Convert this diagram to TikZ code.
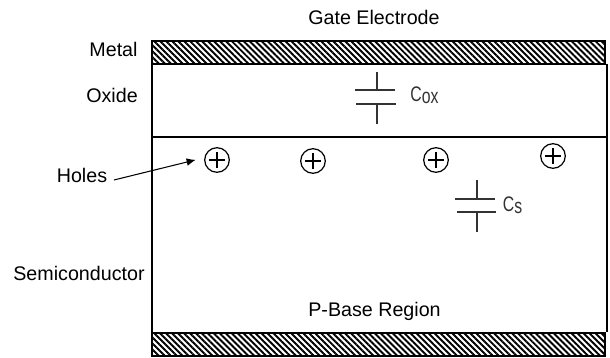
\documentclass[tikz,border=0pt]{standalone}
\usepackage{fontspec}
\setmainfont{Liberation Sans}
\usetikzlibrary{patterns.meta, arrows.meta}
\definecolor{capgray}{HTML}{333333}

\begin{document}
\begin{tikzpicture}[
        x=0.02cm, y=-0.02cm,
        every node/.style={font=\fontsize{11.2pt}{13pt}\selectfont, inner sep=0pt},
        metal/.style={
          draw=black, line width=0.9pt,
          pattern={Lines[angle=135, distance=2.4pt, line width=1.1pt]},
          minimum width=258pt, minimum height=13.2pt, anchor=north west,
        },
        frame/.style={draw=black, line width=1.5pt},
        capline/.style={draw=capgray, line width=0.7pt},
        caplbl/.style={text=capgray, font=\fontsize{12pt}{14pt}\selectfont},
        hole/.style={
          circle, draw=black, line width=0.7pt, minimum size=14pt,
          path picture={
            \draw[line width=1.6pt] ([xshift=-4.4pt]path picture bounding box.center) -- ([xshift=4.4pt]path picture bounding box.center);
            \draw[line width=1.6pt] ([yshift=-4.4pt]path picture bounding box.center) -- ([yshift=4.4pt]path picture bounding box.center);
          },
        },
        arr/.style={-{Latex[length=5.2pt, width=4.4pt]}, draw=black, line width=0.6pt},
      ]
      \useasboundingbox (0,0) rectangle (610,358);

      % layers
      \draw[frame] (152,64) -- (152,332);
      \draw[frame] (607,64) -- (607,332);
      \draw[frame] (152,137) -- (607,137);
      \node[metal] (gate) at (151,40) {};
      \node[metal] (base) at (151,332) {};

      % labels
      \node (gatelbl) at (374,17) {Gate Electrode};
      \node (metallbl) at (113.5,49) {Metal};
      \node (oxidelbl) at (112,95) {Oxide};
      \node (holeslbl) at (82,175) {Holes};
      \node (semilbl) at (79,273) {Semiconductor};
      \node (baselbl) at (374.5,311) {P-Base Region};

      % holes
      \node[hole] (h1) at (217,160) {};
      \node[hole] (h2) at (313,161) {};
      \node[hole] (h3) at (436,160) {};
      \node[hole] (h4) at (553,156) {};
      \coordinate (holestail) at (114,180);
      \draw[arr, shorten >=5pt] (holestail) -- (h1.170);

      % oxide capacitor
      \draw[capline] (377,72) -- (377,90);
      \draw[capline] (355,90) -- (395,90);
      \draw[capline] (356,104) -- (396,104);
      \draw[capline] (377,104) -- (377,124);
      \node[caplbl] (coxlbl) at (424.5,95) {\scalebox{0.75}[1]{C\raisebox{-1.4pt}{ox}}};

      % semiconductor capacitor
      \draw[capline] (477,180) -- (477,199);
      \draw[capline] (455,199) -- (495,199);
      \draw[capline] (457,212) -- (496,212);
      \draw[capline] (477,212) -- (477,232);
      \node[caplbl] (cslbl) at (512.5,205) {\scalebox{0.75}[1]{C\raisebox{-1.4pt}{s}}};
    \end{tikzpicture}
\end{document}
